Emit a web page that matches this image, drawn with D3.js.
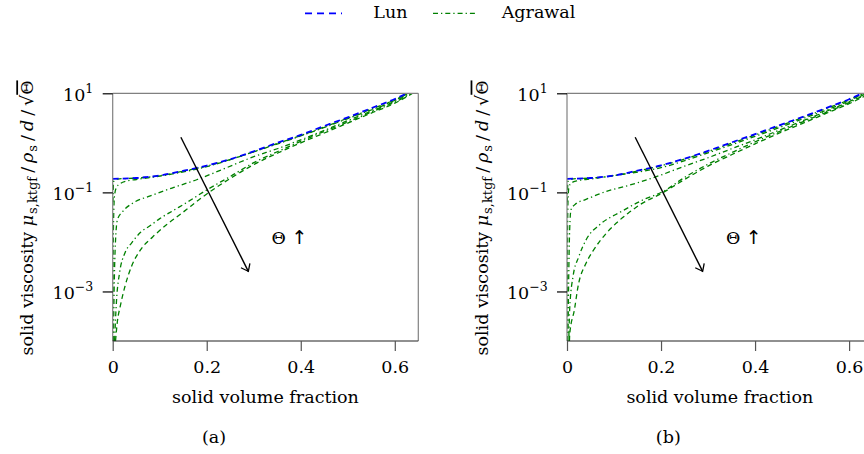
<!DOCTYPE html>
<html><head><meta charset="utf-8">
<script src="https://cdn.jsdelivr.net/npm/d3@7"></script>
<style>
body{margin:0;background:#fff}
svg text{font-family:"DejaVu Serif",serif;fill:#000}
</style></head>
<body><svg id="c" width="864" height="454"></svg>
<script>
// ---------- data ----------
const xTicks = [0, 0.2, 0.4, 0.6];
const xTickLabels = ["0", "0.2", "0.4", "0.6"];
const yTicks = [10, 0.1, 0.001];
const yTickExps = ["1", "\u22121", "\u22123"];
const xDomain = [0, 0.65];
const yDomain = [1e-4, 10];
const panelLabels = ["(a)", "(b)"];
const legendNames = ["Lun", "Agrawal"];

// panel (a)
const lunA = [[0,0.188],[0.05,0.195],[0.1,0.219],[0.15,0.272],[0.2,0.347],[0.25,0.468],[0.3,0.676],[0.35,1.0],[0.4,1.45],[0.45,2.19],[0.5,3.27],[0.55,5.01],[0.6,7.67],[0.626,10]];
const agrA1 = [[0.0005,0.063],[0.002,0.166],[0.01,0.186],[0.05,0.194],[0.1,0.217],[0.15,0.268],[0.2,0.34],[0.25,0.46],[0.3,0.66],[0.35,0.97],[0.4,1.4],[0.45,2.1],[0.5,3.15],[0.55,4.8],[0.6,7.4],[0.628,10]];
const agrA2 = [[0.0004,1e-4],[0.001,0.005],[0.002,0.0316],[0.004,0.089],[0.008,0.126],[0.015,0.148],[0.03,0.17],[0.05,0.182],[0.08,0.2],[0.12,0.229],[0.2,0.331],[0.3,0.66],[0.4,1.38],[0.5,3.09],[0.6,7.24],[0.629,10]];
const agrA3 = [[0.0015,1e-4],[0.003,0.001],[0.005,0.0063],[0.01,0.028],[0.022,0.0417],[0.044,0.0617],[0.08,0.085],[0.13,0.126],[0.18,0.182],[0.23,0.282],[0.3,0.525],[0.35,0.76],[0.4,1.15],[0.45,1.78],[0.5,2.82],[0.55,4.37],[0.6,6.92],[0.632,10]];
const agrA4 = [[0.004,1e-4],[0.008,0.00063],[0.015,0.0025],[0.026,0.006],[0.04,0.0095],[0.06,0.0158],[0.08,0.0214],[0.1,0.0295],[0.13,0.0437],[0.16,0.0646],[0.2,0.112],[0.25,0.209],[0.3,0.398],[0.35,0.661],[0.4,1.07],[0.45,1.7],[0.5,2.63],[0.55,4.17],[0.6,6.61],[0.636,10]];
const agrA5 = [[0.006,1e-4],[0.01,0.00025],[0.016,0.0005],[0.026,0.00126],[0.04,0.0032],[0.06,0.0071],[0.085,0.0126],[0.115,0.0224],[0.15,0.04],[0.19,0.079],[0.25,0.191],[0.3,0.363],[0.35,0.617],[0.4,1.0],[0.45,1.58],[0.5,2.51],[0.55,3.98],[0.6,6.31],[0.638,10]];

// panel (b)
const lunB = [[0,0.188],[0.05,0.195],[0.1,0.219],[0.15,0.275],[0.2,0.35],[0.25,0.48],[0.3,0.69],[0.35,1.02],[0.4,1.5],[0.45,2.24],[0.5,3.3],[0.55,5.0],[0.6,7.6],[0.628,10]];
const agrB1 = [[0.0005,0.063],[0.002,0.166],[0.01,0.186],[0.05,0.194],[0.1,0.217],[0.15,0.27],[0.2,0.345],[0.25,0.47],[0.3,0.67],[0.35,0.98],[0.4,1.44],[0.45,2.15],[0.5,3.2],[0.55,4.85],[0.6,7.4],[0.631,10]];
const agrB2 = [[0.0004,1e-4],[0.001,0.0063],[0.002,0.063],[0.004,0.126],[0.008,0.151],[0.02,0.17],[0.05,0.186],[0.1,0.219],[0.2,0.316],[0.3,0.63],[0.4,1.35],[0.5,3.02],[0.6,7.08],[0.632,10]];
const agrB3 = [[0.002,1e-4],[0.004,0.0032],[0.0057,0.0178],[0.0085,0.0447],[0.02,0.06],[0.038,0.0708],[0.084,0.105],[0.134,0.141],[0.2,0.224],[0.25,0.339],[0.3,0.5],[0.35,0.76],[0.4,1.15],[0.45,1.78],[0.5,2.75],[0.55,4.27],[0.6,6.76],[0.637,10]];
const agrB4 = [[0.004,1.26e-4],[0.0057,0.00044],[0.0128,0.002],[0.025,0.005],[0.041,0.0112],[0.07,0.0224],[0.116,0.0412],[0.162,0.0708],[0.205,0.105],[0.25,0.2],[0.3,0.372],[0.35,0.631],[0.4,1.05],[0.45,1.66],[0.5,2.63],[0.55,4.07],[0.6,6.46],[0.64,10]];
const agrB5 = [[0.0052,1e-4],[0.0057,1.35e-4],[0.016,0.00044],[0.0235,0.00126],[0.041,0.0038],[0.055,0.0065],[0.084,0.0151],[0.105,0.024],[0.13,0.038],[0.155,0.0562],[0.205,0.1],[0.25,0.182],[0.3,0.339],[0.35,0.575],[0.4,0.955],[0.45,1.55],[0.5,2.45],[0.55,3.89],[0.6,6.17],[0.645,10]];

const panels = [
  {ox: 112.7, lun: lunA, agr: [agrA1, agrA2, agrA3, agrA4, agrA5], label: panelLabels[0]},
  {ox: 567.0, lun: lunB, agr: [agrB1, agrB2, agrB3, agrB4, agrB5], label: panelLabels[1]}
];
// dash style of each Agrawal curve
const agrDash = ["dd", "dd", "dd", "dd", "d"];

// ---------- styling ----------
const W = 305.6, TOP = 93.3, BOT = 341;
const BLUE = "#0000ff", GREEN = "#008000";
const DASH = "6,4", DASHDOT = "5,3,1.3,3", DASHED_G = "5,3.5";
const FS = 17.5;

const svg = d3.select("#c");
const defs = svg.append("defs");
defs.append("marker").attr("id","arr").attr("viewBox","-8 -6 10 12")
  .attr("refX",0).attr("refY",0).attr("markerWidth",10).attr("markerHeight",12)
  .attr("markerUnits","userSpaceOnUse").attr("orient","auto")
  .append("path").attr("d","M-6.5,-5 Q-1.5,-1.2 0,0 Q-1.5,1.2 -6.5,5")
  .attr("fill","none").attr("stroke","#000").attr("stroke-width",1.3);

panels.forEach((p, i) => {
  const x = d3.scaleLinear().domain(xDomain).range([p.ox, p.ox + W]);
  const y = d3.scaleLog().domain(yDomain).range([BOT, TOP]);
  const g = svg.append("g");
  const cid = "clip" + i;
  defs.append("clipPath").attr("id", cid).append("rect")
    .attr("x", p.ox).attr("y", TOP).attr("width", W).attr("height", BOT - TOP);

  const line = d3.line().x(d => x(d[0])).y(d => y(d[1])).curve(d3.curveMonotoneX);
  const plot = g.append("g").attr("clip-path", `url(#${cid})`);
  p.agr.forEach((c, k) => {
    plot.append("path").attr("d", line(c)).attr("fill","none")
      .attr("stroke", GREEN).attr("stroke-width", 1.3)
      .attr("stroke-dasharray", agrDash[k] === "d" ? DASHED_G : DASHDOT);
  });
  plot.append("path").attr("d", line(p.lun)).attr("fill","none")
    .attr("stroke", BLUE).attr("stroke-width", 1.8).attr("stroke-dasharray", DASH);

  // frame
  g.append("line").attr("x1",p.ox).attr("x2",p.ox+W).attr("y1",TOP).attr("y2",TOP).attr("stroke","#808080").attr("stroke-width",1.2);
  g.append("line").attr("x1",p.ox+W).attr("x2",p.ox+W).attr("y1",TOP).attr("y2",BOT).attr("stroke","#808080").attr("stroke-width",1.2);
  g.append("line").attr("x1",p.ox).attr("x2",p.ox).attr("y1",TOP).attr("y2",BOT).attr("stroke","#808080").attr("stroke-width",1.2);
  g.append("line").attr("x1",p.ox).attr("x2",p.ox+W).attr("y1",BOT).attr("y2",BOT).attr("stroke","#222").attr("stroke-width",1.2);

  // x axis
  const xa = g.append("g").attr("transform", `translate(0,${BOT})`)
    .call(d3.axisBottom(x).tickValues(xTicks).tickSize(10).tickPadding(9.3)
      .tickFormat((d, j) => xTickLabels[j]));
  xa.select(".domain").remove();
  xa.selectAll(".tick line").attr("stroke","#555").attr("stroke-width",1.2);
  xa.selectAll(".tick text").style("font-family","DejaVu Serif").style("font-size", FS + "px").attr("fill","#000");

  // y axis
  const ya = g.append("g").attr("transform", `translate(${p.ox},0)`)
    .call(d3.axisLeft(y).tickValues(yTicks).tickSize(10).tickFormat(""));
  ya.select(".domain").remove();
  ya.selectAll(".tick line").attr("stroke","#000").attr("stroke-width",1.2);
  yTicks.forEach((t, j) => {
    const tx = g.append("text").attr("x", p.ox - 19.4).attr("y", y(t) + 7.4)
      .attr("text-anchor","end").style("font-size", FS + "px");
    tx.append("tspan").text("10");
    tx.append("tspan").attr("dy", -8).style("font-size","12.5px").text(yTickExps[j]);
  });

  // axis titles
  g.append("text").attr("x", p.ox + W/2).attr("y", 402.7).attr("text-anchor","middle")
    .style("font-size", FS + "px").text("solid volume fraction");
  const yt = g.append("text").attr("transform", `translate(${p.ox - 79.4},218) rotate(-90)`)
    .attr("text-anchor","middle").style("font-size", FS + "px");
  yt.append("tspan").text("solid viscosity ");
  yt.append("tspan").style("font-style","italic").text("\u03bc");
  yt.append("tspan").attr("dy", 4).attr("dx", 1).style("font-size","13px").text("s,ktgf");
  yt.append("tspan").attr("dy", -4).attr("dx", 4).text("/");
  yt.append("tspan").attr("dx", 4).style("font-style","italic").text("\u03c1");
  yt.append("tspan").attr("dy", 4).attr("dx", 1).style("font-size","13px").text("s");
  yt.append("tspan").attr("dy", -4).attr("dx", 4).text("/");
  yt.append("tspan").attr("dx", 4).style("font-style","italic").text("d");
  yt.append("tspan").attr("dx", 4).text("/");
  yt.append("tspan").attr("dx", 4).text("\u221a");
  yt.append("tspan").style("text-decoration","overline").text("\u0398");

  // arrow + annotation
  g.append("line").attr("x1", x(0.145)).attr("y1", y(1.3))
    .attr("x2", x(0.2885)).attr("y2", y(0.00255))
    .attr("stroke","#000").attr("stroke-width",1.4).attr("marker-end","url(#arr)");
  const th = g.append("text").attr("x", x(0.338)).attr("y", y(0.009))
    .style("font-size", FS + "px");
  th.append("tspan").text("\u0398 ");
  th.append("tspan").style("font-family","DejaVu Sans").style("font-size","19px").text("\u2191");

  // panel label
  g.append("text").attr("x", p.ox + 101.3).attr("y", 443).attr("text-anchor","middle")
    .style("font-size", FS + "px").text(p.label);
});

// legend
const lg = svg.append("g");
lg.append("line").attr("x1",305).attr("x2",342).attr("y1",13.3).attr("y2",13.3)
  .attr("stroke",BLUE).attr("stroke-width",1.8).attr("stroke-dasharray","7,5");
lg.append("text").attr("x",373.3).attr("y",17.8).style("font-size",FS+"px").text(legendNames[0]);
lg.append("line").attr("x1",433).attr("x2",475).attr("y1",13.3).attr("y2",13.3)
  .attr("stroke",GREEN).attr("stroke-width",1.3).attr("stroke-dasharray",DASHDOT);
lg.append("text").attr("x",501.7).attr("y",17.8).style("font-size",FS+"px").text(legendNames[1]);
</script>
</body></html>
